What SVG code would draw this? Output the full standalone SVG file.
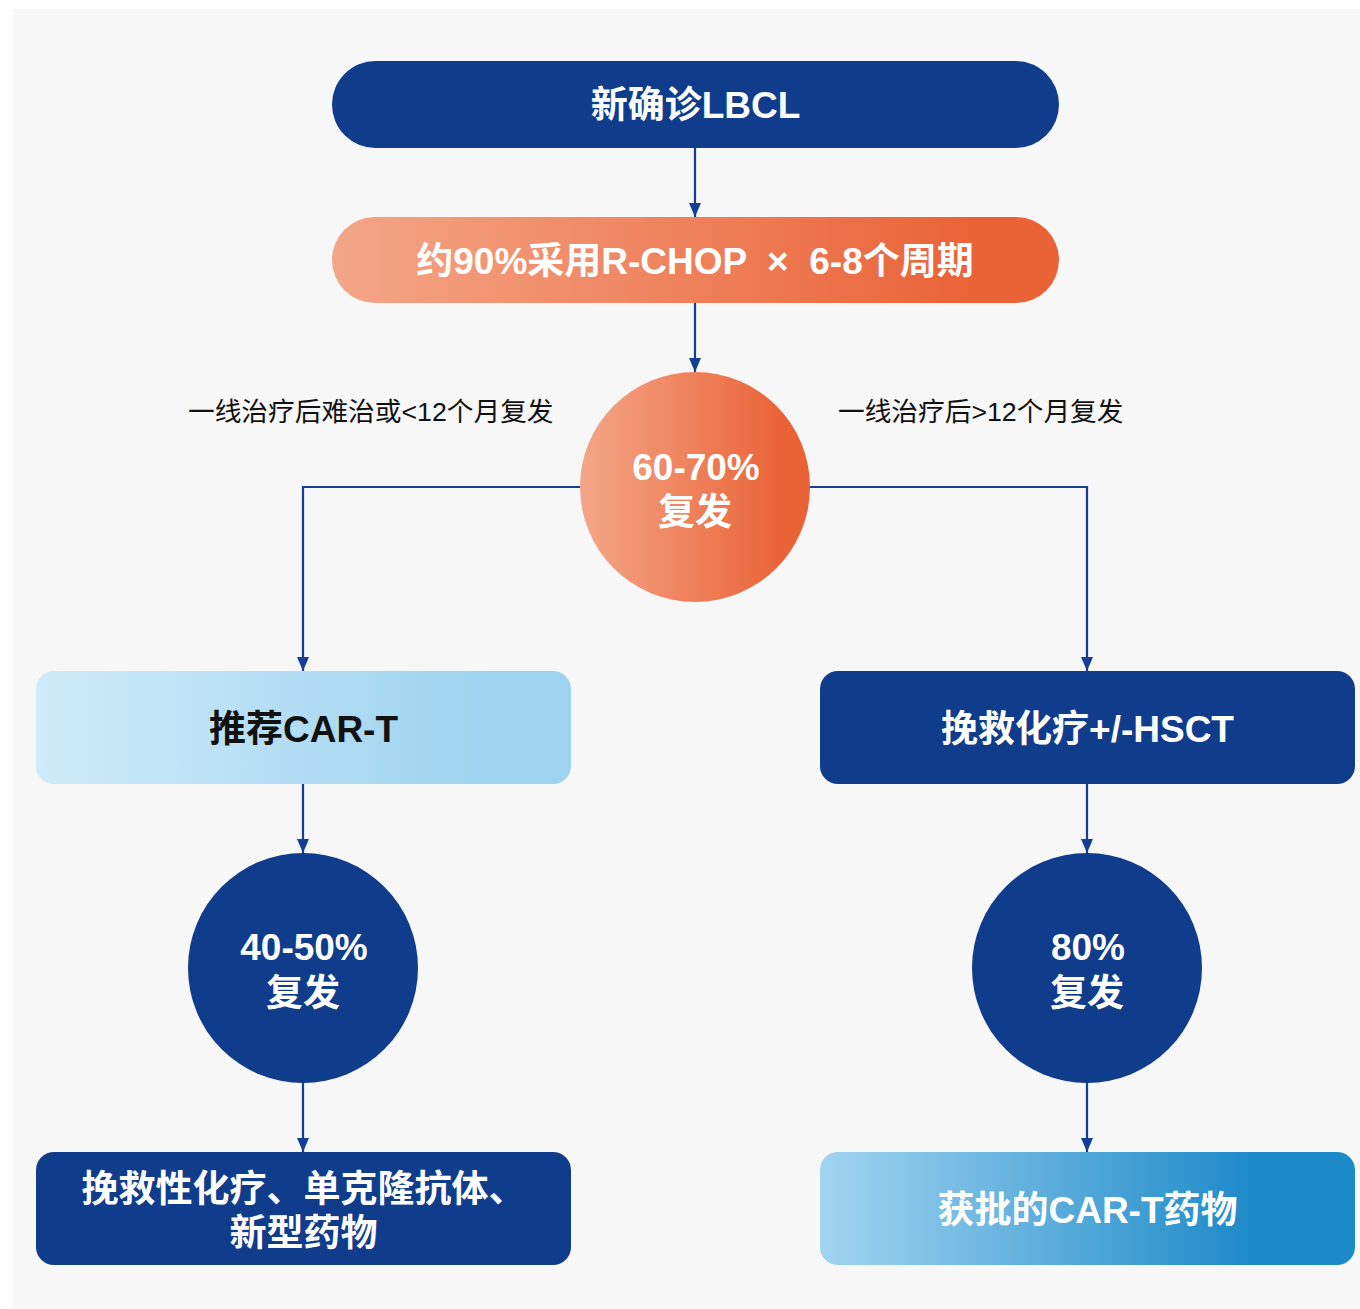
<svg xmlns="http://www.w3.org/2000/svg" width="1360" height="1309" viewBox="0 0 1360 1309">
<defs>
<style>
.t{font-family:"Liberation Sans","Noto Sans CJK SC",sans-serif;font-weight:bold;font-size:37px;text-anchor:middle;fill:#fff}
.k{fill:#111}
.lbl{font-family:"Liberation Sans","Noto Sans CJK SC",sans-serif;font-size:26.7px;fill:#111}
.dark{fill:#103C8C}
.c{fill:none;stroke:#123F91;stroke-width:2.2;marker-end:url(#ah)}
</style>
<linearGradient id="og" x1="0" y1="0" x2="1" y2="0">
<stop offset="0" stop-color="#F4A688"/>
<stop offset="0.88" stop-color="#EA6337"/>
<stop offset="1" stop-color="#EA6337"/>
</linearGradient>
<linearGradient id="lb" x1="0" y1="0" x2="1" y2="0">
<stop offset="0" stop-color="#CFEAF9"/>
<stop offset="0.85" stop-color="#9DD3EF"/>
<stop offset="1" stop-color="#9DD3EF"/>
</linearGradient>
<linearGradient id="bb" x1="0" y1="0" x2="1" y2="0">
<stop offset="0" stop-color="#A2D4F0"/>
<stop offset="0.8" stop-color="#1E8BC9"/>
<stop offset="1" stop-color="#1E8BC9"/>
</linearGradient>
<marker id="ah" markerUnits="userSpaceOnUse" markerWidth="14" markerHeight="14" viewBox="0 0 14 12" refX="14" refY="6" orient="auto">
<path d="M0,0 L14,6 L0,12 z" fill="#123F91"/>
</marker>
</defs>
<rect x="13" y="9" width="1347" height="1300" fill="#F7F7F7"/>
<g id="connectors">
<path class="c" d="M695,148 V217"/>
<path class="c" d="M695,303 V372"/>
<path class="c" d="M581,487 H303 V671"/>
<path class="c" d="M809,487 H1087 V671"/>
<path class="c" d="M303,784 V853"/>
<path class="c" d="M1087,784 V853"/>
<path class="c" d="M303,1083 V1152"/>
<path class="c" d="M1087,1083 V1152"/>
</g>
<g id="n1">
<rect class="dark" x="332" y="61" width="727" height="87" rx="43.5"/>
<text class="t" x="695.5" y="118">新确诊LBCL</text>
</g>
<g id="n2">
<rect x="332" y="217" width="727" height="86" rx="43" fill="url(#og)"/>
<text class="t" x="695" y="274" xml:space="preserve">约90%采用R-CHOP  ×  6-8个周期</text>
</g>
<g id="n3">
<circle cx="695" cy="487" r="115" fill="url(#og)"/>
<text class="t" x="696" y="480">60-70%</text>
<text class="t" x="695" y="525">复发</text>
</g>
<g id="lbl-left">
<text class="lbl" x="188" y="421">一线治疗后难治或&lt;12个月复发</text>
</g>
<g id="lbl-right">
<text class="lbl" x="838" y="421">一线治疗后&gt;12个月复发</text>
</g>
<g id="n4">
<rect x="36" y="671" width="535" height="113" rx="18" fill="url(#lb)"/>
<text class="t k" x="303.5" y="742">推荐CAR-T</text>
</g>
<g id="n5">
<rect class="dark" x="820" y="671" width="535" height="113" rx="18"/>
<text class="t" x="1087.5" y="742">挽救化疗+/-HSCT</text>
</g>
<g id="n6">
<circle class="dark" cx="303" cy="968" r="115"/>
<text class="t" x="304" y="960">40-50%</text>
<text class="t" x="303" y="1006">复发</text>
</g>
<g id="n7">
<circle class="dark" cx="1087" cy="968" r="115"/>
<text class="t" x="1088" y="960">80%</text>
<text class="t" x="1087" y="1006">复发</text>
</g>
<g id="n8">
<rect class="dark" x="36" y="1152" width="535" height="113" rx="18"/>
<text class="t" x="303.5" y="1202">挽救性化疗、单克隆抗体、</text>
<text class="t" x="303.5" y="1246">新型药物</text>
</g>
<g id="n9">
<rect x="820" y="1152" width="535" height="113" rx="18" fill="url(#bb)"/>
<text class="t" x="1087.5" y="1223">获批的CAR-T药物</text>
</g>
</svg>
